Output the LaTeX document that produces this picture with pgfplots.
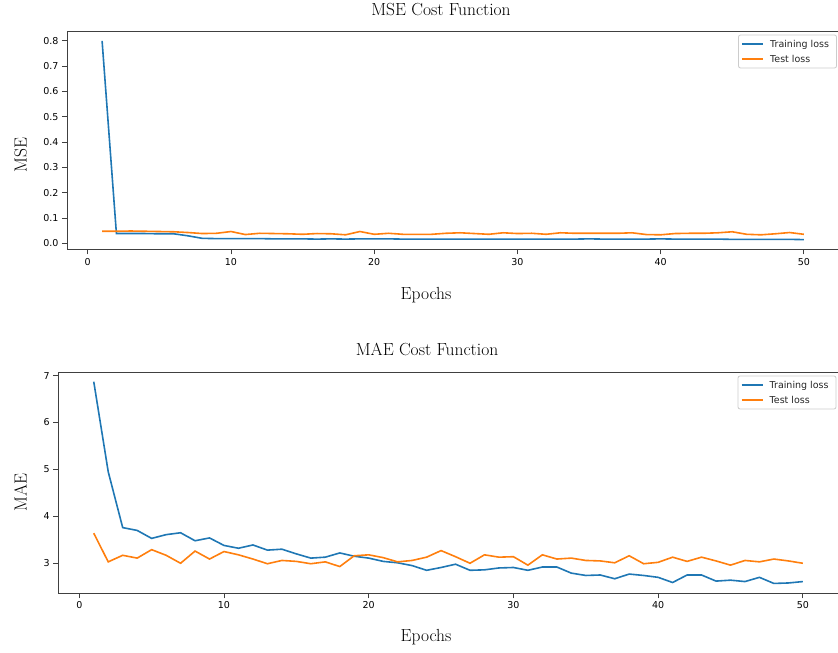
\documentclass[border=0pt]{standalone}
\usepackage{fontspec}
\usepackage{pgfplots}
\usepackage{pgfplotstable}
\pgfplotsset{compat=1.18}
\usetikzlibrary{calc}
\newfontfamily\dejavu{DejaVu Sans}
\definecolor{mplblue}{HTML}{1F77B4}
\definecolor{mplorange}{HTML}{FF7F0E}

% epoch, MSE train, MSE test, MAE train, MAE test
\pgfplotstableread{
ep mtr mte atr ate
1 0.800 0.048 6.87 3.64
2 0.039 0.048 4.95 3.03
3 0.039 0.049 3.76 3.17
4 0.039 0.048 3.70 3.11
5 0.038 0.047 3.53 3.29
6 0.038 0.046 3.61 3.17
7 0.030 0.043 3.65 3.00
8 0.020 0.039 3.48 3.26
9 0.019 0.040 3.54 3.09
10 0.019 0.047 3.38 3.25
11 0.019 0.035 3.32 3.18
12 0.019 0.040 3.39 3.09
13 0.018 0.039 3.28 2.99
14 0.018 0.038 3.30 3.06
15 0.018 0.036 3.20 3.04
16 0.017 0.039 3.11 2.99
17 0.018 0.038 3.13 3.03
18 0.017 0.034 3.22 2.93
19 0.018 0.047 3.15 3.16
20 0.018 0.036 3.11 3.18
21 0.018 0.040 3.04 3.12
22 0.017 0.036 3.01 3.03
23 0.017 0.036 2.95 3.06
24 0.017 0.036 2.85 3.13
25 0.017 0.040 2.91 3.27
26 0.017 0.042 2.98 3.14
27 0.017 0.039 2.85 3.00
28 0.017 0.036 2.86 3.18
29 0.017 0.042 2.90 3.13
30 0.017 0.039 2.91 3.14
31 0.017 0.040 2.85 2.96
32 0.017 0.036 2.92 3.18
33 0.017 0.042 2.92 3.09
34 0.017 0.040 2.79 3.11
35 0.018 0.040 2.74 3.06
36 0.017 0.040 2.75 3.05
37 0.017 0.040 2.67 3.01
38 0.017 0.042 2.77 3.16
39 0.017 0.035 2.74 2.99
40 0.018 0.034 2.70 3.02
41 0.017 0.039 2.59 3.13
42 0.017 0.040 2.75 3.04
43 0.017 0.040 2.75 3.13
44 0.017 0.042 2.62 3.05
45 0.016 0.046 2.64 2.96
46 0.016 0.036 2.61 3.06
47 0.016 0.034 2.70 3.03
48 0.016 0.038 2.57 3.09
49 0.016 0.043 2.58 3.05
50 0.015 0.036 2.61 3.00
}\losses

\tikzset{
  trainline/.style={color=mplblue, line width=1.6pt},
  testline/.style={color=mplorange, line width=1.6pt},
}
\pgfplotsset{
  lossaxis/.style={
    scale only axis,
    xmin=-1.45, xmax=52.45,
    xtick={0,10,...,50},
    xtick pos=bottom, ytick pos=left,
    tick align=outside,
    major tick length=5pt,
    tick style={black!75, line width=0.9pt},
    axis line style={black!75, line width=0.9pt},
    ticklabel style={font=\dejavu\fontsize{9.5}{11}\selectfont},
    /pgf/number format/assume math mode=true,
  },
}

% legend box, #1,#2 = its top-left corner
\newcommand\losslegend[2]{%
  \draw[black!20, fill=white, rounded corners=2pt, line width=0.8pt]
    (#1,#2) rectangle ++(98pt,-33pt);
  \draw[trainline] ($(#1,#2)+(3.5pt,-9pt)$) -- ++(21pt,0pt);
  \draw[testline]  ($(#1,#2)+(3.5pt,-24pt)$) -- ++(21pt,0pt);
  \node[anchor=base west, inner sep=0pt, font=\dejavu\fontsize{9.5}{11}\selectfont, text=black!85]
    at ($(#1,#2)+(31.5pt,-12.5pt)$) {Training loss};
  \node[anchor=base west, inner sep=0pt, font=\dejavu\fontsize{9.5}{11}\selectfont, text=black!85]
    at ($(#1,#2)+(31.5pt,-27.5pt)$) {Test loss};
}

\begin{document}
\begin{tikzpicture}
\useasboundingbox (0,0) rectangle (838pt,653pt);

% MSE
\begin{axis}[lossaxis,
    at={(67pt,403.5pt)}, anchor=south west,
    width=772pt, height=218.5pt,
    ymin=-0.024, ymax=0.839,
    ytick={0,0.1,...,0.8},
    yticklabel style={/pgf/number format/.cd, fixed, fixed zerofill, precision=1}]
\addplot[trainline] table[x=ep, y=mtr] {\losses};
\addplot[testline] table[x=ep, y=mte] {\losses};
\end{axis}

% MAE
\begin{axis}[lossaxis,
    at={(58.3pt,59.7pt)}, anchor=south west,
    width=780pt, height=221pt,
    ymin=2.36, ymax=7.07,
    ytick={3,4,5,6,7}]
\addplot[trainline] table[x=ep, y=atr] {\losses};
\addplot[testline] table[x=ep, y=ate] {\losses};
\end{axis}

\losslegend{738.5pt}{618pt}
\losslegend{738pt}{277pt}

\begin{scope}[every node/.style={font=\fontsize{17.5}{20}\selectfont, inner sep=0pt}]
\node[anchor=base] at (441pt,637pt) {MSE Cost Function};
\node[anchor=base] at (426pt,353.7pt) {Epochs};
\node[anchor=base, rotate=90] at (26.7pt,498pt) {MSE};
\node[anchor=base] at (427pt,297pt) {MAE Cost Function};
\node[anchor=base] at (426pt,11pt) {Epochs};
\node[anchor=base, rotate=90] at (26.7pt,160.5pt) {MAE};
\end{scope}
\end{tikzpicture}
\end{document}
